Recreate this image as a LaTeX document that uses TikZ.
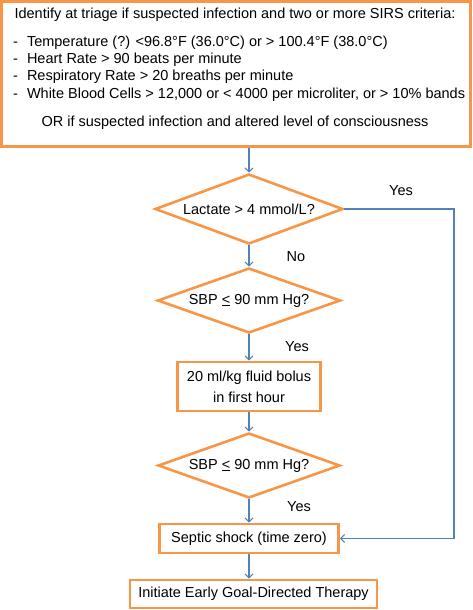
\documentclass[tikz,border=0pt]{standalone}
\usepackage{fontspec}
\setmainfont{Liberation Sans}
\usetikzlibrary{shapes.geometric,arrows.meta}
\definecolor{boxorange}{HTML}{F79646}
\definecolor{lineblue}{HTML}{4F81BD}
\begin{document}
\begin{tikzpicture}[x=1pt,y=-1pt,
  txt/.style={font=\fontsize{14.5}{17}\selectfont, inner sep=0pt},
  obox/.style={draw=boxorange, line width=2.6pt, fill=white, inner sep=0pt, font=\fontsize{14.5}{21}\selectfont, align=center},
  odia/.style={diamond, draw=boxorange, line width=2.6pt, fill=white, inner sep=0pt, aspect=2.7, font=\fontsize{14.5}{17}\selectfont},
  conn/.style={draw=lineblue, line width=1.1pt, -{Straight Barb[length=4pt,width=8pt]}},
  lbl/.style={font=\fontsize{14.5}{17}\selectfont, inner sep=0pt}]
\useasboundingbox (0,0) rectangle (473,610);
% top box
\node[obox, minimum width=469pt, minimum height=145pt] (top) at (236,74) {};
\node[txt] (t0) at (235,15) {Identify at triage if suspected infection and two or more SIRS criteria:};
\node[txt, anchor=west] (b1) at (13,43) {-\hspace{9pt}Temperature (?) <96.8°F (36.0°C) or > 100.4°F (38.0°C)};
\node[txt, anchor=west] (b2) at (13,60) {-\hspace{9pt}Heart Rate > 90 beats per minute};
\node[txt, anchor=west] (b3) at (13,77) {-\hspace{9pt}Respiratory Rate > 20 breaths per minute};
\node[txt, anchor=west] (b4) at (13,95) {-\hspace{9pt}White Blood Cells > 12,000 or < 4000 per microliter, or > 10\% bands};
\node[txt] (t5) at (235,123) {OR if suspected infection and altered level of consciousness};
% diamonds and boxes
\node[odia, minimum width=188pt, minimum height=70pt] (d1) at (249,209) {Lactate > 4 mmol/L?};
\node[odia, minimum width=183pt, minimum height=65pt] (d2) at (249,300.5) {SBP \underline{<} 90 mm Hg?};
\node[obox, minimum width=143pt, minimum height=49pt] (fluid) at (249,386.5) {20 ml/kg fluid bolus\\in first hour};
\node[odia, minimum width=182pt, minimum height=65pt] (d3) at (249,465.5) {SBP \underline{<} 90 mm Hg?};
\node[obox, minimum width=179pt, minimum height=29pt] (septic) at (249,538.5) {Septic shock (time zero)};
\node[obox, minimum width=247pt, minimum height=28pt] (final) at (253.5,594) {Initiate Early Goal-Directed Therapy};
% connectors
\draw[conn] (d1.north |- top.south) -- (d1.north);
\draw[conn] (d1.south) -- (d2.north);
\draw[conn] (d2.south) -- (fluid.north);
\draw[conn] (fluid.south) -- (d3.north);
\draw[conn] (d3.south) -- (septic.north);
\draw[conn] (septic.south) -- (septic.south |- final.north);
\coordinate (c1) at (454,209);
\draw[conn] (d1.east) -- (c1) -- (c1 |- septic.east) -- (septic.east);
% labels
\node[lbl] (y1) at (401,191) {Yes};
\node[lbl] (n1) at (296,257) {No};
\node[lbl] (y2) at (297,347) {Yes};
\node[lbl] (y3) at (299,507) {Yes};
\end{tikzpicture}
\end{document}
